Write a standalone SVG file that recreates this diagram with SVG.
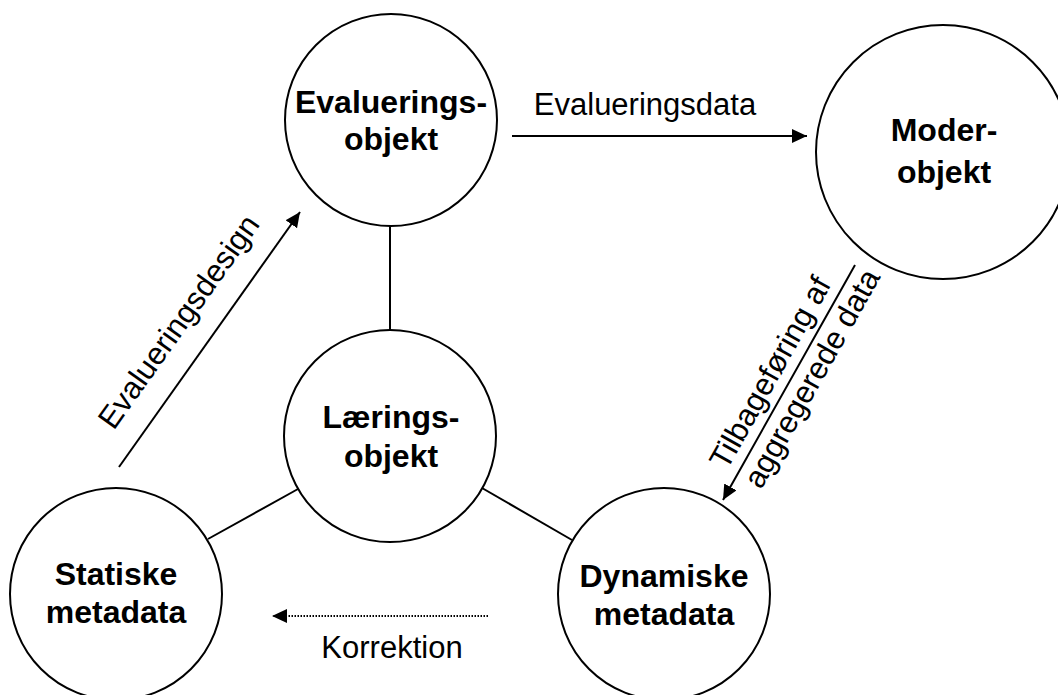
<svg xmlns="http://www.w3.org/2000/svg" width="1058" height="695" viewBox="0 0 1058 695">
  <style>
    .node { fill: #ffffff; stroke: #000000; stroke-width: 2; }
    .title { font-family: "Liberation Sans", Arial, sans-serif; font-weight: bold; font-size: 32px; text-anchor: middle; fill: #000000; }
    .label { font-family: "Liberation Sans", Arial, sans-serif; font-size: 31px; fill: #000000; }
    .link { stroke: #000000; stroke-width: 2; fill: none; }
    .arrow { stroke: #000000; stroke-width: 2; fill: none; marker-end: url(#head); }
    .dotted { stroke: #000000; stroke-width: 2; fill: none; stroke-dasharray: 1.5 1.5; marker-end: url(#head); }
  </style>
  <defs>
    <marker id="head" viewBox="0 0 15 14" refX="15" refY="7" markerWidth="15" markerHeight="14" markerUnits="userSpaceOnUse" orient="auto">
      <path d="M0,0 L15,7 L0,14 Z" fill="#000000"/>
    </marker>
  </defs>
  <rect width="1058" height="695" fill="#ffffff"/>

  <g id="connectors">
    <!-- plain links around the learning object -->
    <line class="link" x1="390" y1="226" x2="390" y2="331"/>
    <line class="link" x1="208" y1="539" x2="298" y2="489"/>
    <line class="link" x1="482" y1="488" x2="572" y2="540"/>
    <!-- directed flows -->
    <line class="arrow" x1="512" y1="136" x2="807" y2="136"/>
    <line class="arrow" x1="119" y1="467" x2="300" y2="212"/>
    <line class="arrow" x1="855" y1="265" x2="723" y2="500"/>
    <line class="dotted" x1="488" y1="616" x2="272" y2="616"/>
    <!-- flow labels -->
    <text class="label" x="645" y="115" text-anchor="middle">Evalueringsdata</text>
    <g transform="translate(119,467) rotate(-54.6)">
      <text class="label" x="153" y="-25" text-anchor="middle">Evalueringsdesign</text>
    </g>
    <g transform="translate(789,382) rotate(-60.67)">
      <text class="label" x="-108" y="-10.6">Tilbageføring af</text>
      <text class="label" x="-108" y="28.6">aggregerede data</text>
    </g>
    <text class="label" x="392" y="658" text-anchor="middle">Korrektion</text>
  </g>

  <g id="evalueringsobjekt">
    <circle class="node" cx="391" cy="120" r="106"/>
    <text class="title" x="391" y="113">Evaluerings-</text>
    <text class="title" x="391" y="150">objekt</text>
  </g>

  <g id="moderobjekt">
    <circle class="node" cx="943" cy="152" r="127"/>
    <text class="title" x="944" y="141">Moder-</text>
    <text class="title" x="944" y="183">objekt</text>
  </g>

  <g id="laeringsobjekt">
    <circle class="node" cx="390" cy="436" r="106"/>
    <text class="title" x="391" y="428">Lærings-</text>
    <text class="title" x="391" y="467">objekt</text>
  </g>

  <g id="statiske-metadata">
    <circle class="node" cx="116" cy="594" r="106"/>
    <text class="title" x="116" y="585">Statiske</text>
    <text class="title" x="116" y="623">metadata</text>
  </g>

  <g id="dynamiske-metadata">
    <circle class="node" cx="664" cy="594" r="106"/>
    <text class="title" x="664" y="587">Dynamiske</text>
    <text class="title" x="664" y="625">metadata</text>
  </g>
</svg>
